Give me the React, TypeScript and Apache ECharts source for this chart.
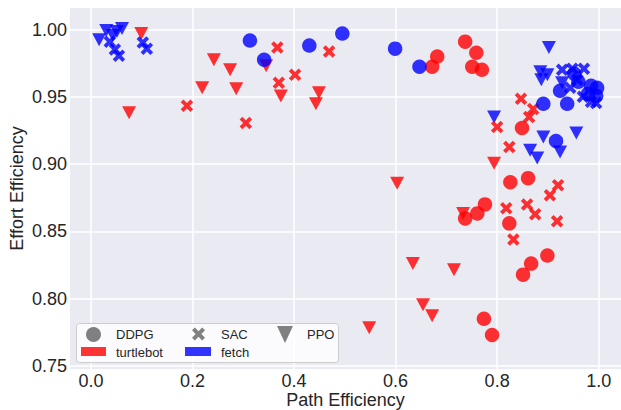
import React, { useEffect, useRef } from "react";
import * as echarts from "echarts";

// ---- data ----
const xTicks = [0.0, 0.2, 0.4, 0.6, 0.8, 1.0];
const yTicks = [0.75, 0.8, 0.85, 0.9, 0.95, 1.0];

const turtleDDPG: number[][] = [
  [0.737, 0.991], [0.759, 0.9828], [0.682, 0.9799], [0.672, 0.9724], [0.751, 0.9724],
  [0.770, 0.9701], [0.849, 0.9269], [0.861, 0.8896], [0.826, 0.8866], [0.776, 0.8701],
  [0.761, 0.8634], [0.737, 0.8597], [0.824, 0.856], [0.899, 0.8321], [0.867, 0.8261],
  [0.851, 0.8179], [0.774, 0.7851], [0.790, 0.7731],
];
const turtleSAC: number[][] = [
  [0.189, 0.9433], [0.305, 0.9306], [0.367, 0.9866], [0.370, 0.9604], [0.402, 0.9664],
  [0.469, 0.9836], [0.847, 0.9485], [0.871, 0.941], [0.863, 0.9351], [0.800, 0.9276],
  [0.824, 0.9127], [0.920, 0.8843], [0.904, 0.8769], [0.859, 0.8701], [0.818, 0.8672],
  [0.875, 0.8627], [0.918, 0.8575], [0.832, 0.844],
];
const turtlePPO: number[][] = [
  [0.099, 0.997], [0.242, 0.9776], [0.274, 0.9701], [0.219, 0.9567], [0.286, 0.956],
  [0.345, 0.9731], [0.374, 0.9507], [0.449, 0.953], [0.443, 0.9448], [0.075, 0.9381],
  [0.794, 0.9007], [0.603, 0.8858], [0.733, 0.8634], [0.634, 0.8261], [0.715, 0.8216],
  [0.654, 0.7955], [0.672, 0.7873], [0.548, 0.7784],
];
const fetchDDPG: number[][] = [
  [0.313, 0.9918], [0.341, 0.9776], [0.430, 0.9881], [0.495, 0.997], [0.599, 0.9858],
  [0.647, 0.9724], [0.891, 0.9448], [0.938, 0.9448], [0.924, 0.9545], [0.952, 0.9672],
  [0.960, 0.9612], [0.985, 0.9582], [0.997, 0.9567], [0.979, 0.9522], [0.995, 0.9507],
  [0.916, 0.9172],
];
const fetchSAC: number[][] = [
  [0.037, 0.991], [0.047, 0.9851], [0.055, 0.9806], [0.102, 0.9903], [0.110, 0.9858],
  [0.928, 0.9701], [0.948, 0.9709], [0.971, 0.9709], [0.958, 0.9627], [0.944, 0.9567],
  [0.969, 0.95], [0.985, 0.9463], [0.995, 0.9455],
];
const fetchPPO: number[][] = [
  [0.016, 0.9925], [0.030, 0.9993], [0.043, 0.9955], [0.051, 0.9985], [0.061, 1.0007],
  [0.902, 0.9866], [0.885, 0.9687], [0.899, 0.9664], [0.887, 0.9627], [0.928, 0.9604],
  [0.794, 0.9351], [0.891, 0.9201], [0.956, 0.9231], [0.865, 0.9104], [0.879, 0.9045],
  [0.924, 0.909],
];

const RED = "rgb(255,0,0)";
const BLUE = "rgb(0,0,255)";
const X_PATH =
  "path://M22,0L50,28L78,0L100,22L72,50L100,78L78,100L50,72L22,100L0,78L28,50L0,22Z";
const TRI_PATH = "path://M0,0L100,0L50,100Z";
const FONT = "'Liberation Sans', Arial, sans-serif";
const TEXT = "#262626";

const isTick = (ticks: number[], v: number) => ticks.some((t) => Math.abs(t - v) < 1e-6);

function mk(name: string, data: number[][], color: string, symbol: string, size: any) {
  return {
    name,
    type: "scatter",
    data,
    symbol,
    symbolSize: size,
    itemStyle: { color, opacity: 0.8 },
    emphasis: { disabled: true },
  };
}

function xPoly(cx: number, cy: number, s: number) {
  const d = 0.22;
  const pts = [
    [d, 0], [0.5, 0.5 - d], [1 - d, 0], [1, d], [0.5 + d, 0.5], [1, 1 - d],
    [1 - d, 1], [0.5, 0.5 + d], [d, 1], [0, 1 - d], [0.5 - d, 0.5], [0, d],
  ];
  return pts.map(([a, b]) => [cx - s / 2 + a * s, cy - s / 2 + b * s]);
}

export default function App() {
  const ref = useRef<HTMLDivElement>(null);
  useEffect(() => {
    if (!ref.current) return;
    const chart = echarts.init(ref.current, null, { renderer: "svg" });
    const legendText = (x: number, y: number, t: string) => ({
      type: "text",
      x,
      y,
      style: { text: t, fill: TEXT, font: `13px ${FONT}`, textVerticalAlign: "middle" },
      z: 101,
    });
    chart.setOption({
      animation: false,
      backgroundColor: "#ffffff",
      grid: {
        left: 70,
        right: 0,
        top: 8,
        bottom: 41,
        show: true,
        backgroundColor: "#EAEAF2",
        borderWidth: 0,
        containLabel: false,
        outerBoundsMode: "none",
      },
      xAxis: {
        type: "value",
        min: -0.0414,
        max: 1.044,
        splitNumber: 5,
        name: "Path Efficiency",
        nameLocation: "middle",
        nameGap: 22,
        nameMoveOverlap: false,
        nameTextStyle: { fontFamily: FONT, fontSize: 18, color: TEXT },
        axisLine: { show: false },
        axisTick: { show: false },
        axisLabel: {
          fontFamily: FONT,
          fontSize: 18,
          color: TEXT,
          margin: 3,
          formatter: (v: number) => (isTick(xTicks, v) ? v.toFixed(1) : ""),
        },
        splitLine: {
          show: true,
          showMinLine: false,
          showMaxLine: false,
          lineStyle: { color: "#ffffff", width: 1.5 },
        },
      },
      yAxis: {
        type: "value",
        min: 0.7478,
        max: 1.016,
        splitNumber: 5,
        name: "Effort Efficiency",
        nameLocation: "middle",
        nameGap: 44,
        nameMoveOverlap: false,
        nameTextStyle: { fontFamily: FONT, fontSize: 18, color: TEXT },
        axisLine: { show: false },
        axisTick: { show: false },
        axisLabel: {
          fontFamily: FONT,
          fontSize: 18,
          color: TEXT,
          margin: 3,
          formatter: (v: number) => (isTick(yTicks, v) ? v.toFixed(2) : ""),
        },
        splitLine: {
          show: true,
          showMinLine: false,
          showMaxLine: false,
          lineStyle: { color: "#ffffff", width: 1.5 },
        },
      },
      series: [
        mk("turtlebot PPO", turtlePPO, RED, TRI_PATH, [14, 13]),
        mk("fetch PPO", fetchPPO, BLUE, TRI_PATH, [14, 13]),
        mk("turtlebot SAC", turtleSAC, RED, X_PATH, 12.5),
        mk("fetch SAC", fetchSAC, BLUE, X_PATH, 12.5),
        mk("turtlebot DDPG", turtleDDPG, RED, "circle", 14.5),
        mk("fetch DDPG", fetchDDPG, BLUE, "circle", 14.5),
      ],
      graphic: [
        {
          type: "rect",
          shape: { x: 76.5, y: 323.5, width: 262, height: 39, r: 3 },
          style: { fill: "rgba(255,255,255,0.8)", stroke: "#cccccc", lineWidth: 1 },
          z: 100,
        },
        {
          type: "circle",
          shape: { cx: 93.5, cy: 334.5, r: 7.5 },
          style: { fill: "#808080" },
          z: 101,
        },
        {
          type: "polygon",
          shape: { points: xPoly(198.5, 334, 13) },
          style: { fill: "#808080" },
          z: 101,
        },
        {
          type: "polygon",
          shape: { points: [[277, 326], [293, 326], [285, 343]] },
          style: { fill: "#808080" },
          z: 101,
        },
        {
          type: "rect",
          shape: { x: 81, y: 347, width: 25, height: 9 },
          style: { fill: "#ff3333" },
          z: 101,
        },
        {
          type: "rect",
          shape: { x: 185, y: 347, width: 26, height: 9 },
          style: { fill: "#3333ff" },
          z: 101,
        },
        legendText(116, 334.5, "DDPG"),
        legendText(221, 334.5, "SAC"),
        legendText(307, 334.5, "PPO"),
        legendText(116, 352, "turtlebot"),
        legendText(221, 352, "fetch"),
      ],
    });
    return () => chart.dispose();
  }, []);
  return (
    <div
      ref={ref}
      style={{ position: "absolute", left: 0, top: 0, width: 621, height: 410 }}
    />
  );
}
